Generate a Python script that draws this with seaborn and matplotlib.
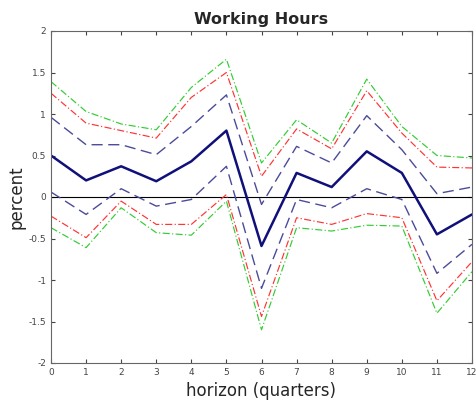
import numpy as np
import pandas as pd
import matplotlib
matplotlib.use("Agg")
import matplotlib.pyplot as plt
import seaborn as sns

horizon = list(range(13))
median = [0.50, 0.20, 0.37, 0.19, 0.43, 0.80, -0.59, 0.29, 0.12, 0.55, 0.29, -0.45, -0.21]
upper68 = [0.96, 0.63, 0.63, 0.51, 0.85, 1.23, -0.09, 0.61, 0.41, 0.98, 0.57, 0.04, 0.12]
lower68 = [0.06, -0.21, 0.10, -0.11, -0.03, 0.37, -1.10, -0.03, -0.13, 0.10, -0.03, -0.92, -0.57]
upper90 = [1.25, 0.89, 0.80, 0.71, 1.20, 1.50, 0.25, 0.82, 0.58, 1.28, 0.77, 0.36, 0.35]
lower90 = [-0.23, -0.49, -0.05, -0.33, -0.33, 0.03, -1.44, -0.25, -0.33, -0.20, -0.25, -1.25, -0.78]
upper95 = [1.39, 1.03, 0.88, 0.81, 1.32, 1.66, 0.41, 0.93, 0.65, 1.42, 0.85, 0.50, 0.47]
lower95 = [-0.37, -0.61, -0.13, -0.43, -0.46, -0.05, -1.60, -0.37, -0.41, -0.34, -0.35, -1.40, -0.90]

title = "Working Hours"
xlabel = "horizon (quarters)"
ylabel = "percent"

sns.set_style("white")
plt.rcParams['font.family'] = ['DejaVu Sans']

fig = plt.figure(figsize=(4.76, 4.01), dpi=100)
ax = fig.add_axes([51/476, 1 - 363/401, (472-51)/476, (363-31)/401])

ax.axhline(0, color="black", lw=0.8, zorder=1)

styles = [
    (upper95, "#33cc33", (0, (6, 2, 1, 2)), 0.85),
    (lower95, "#33cc33", (0, (6, 2, 1, 2)), 0.85),
    (upper90, "#ff3333", (0, (6, 2, 1, 2)), 0.85),
    (lower90, "#ff3333", (0, (6, 2, 1, 2)), 0.85),
    (upper68, "#4b4b9a", (0, (8, 4)), 1.0),
    (lower68, "#4b4b9a", (0, (8, 4)), 1.0),
    (median, "#10107a", "-", 1.8),
]
for vals, col, ls, lw in styles:
    df = pd.DataFrame({"h": horizon, "v": vals})
    sns.lineplot(data=df, x="h", y="v", ax=ax, color=col, linestyle=ls, linewidth=lw)

ax.set_xlim(0, 12)
ax.set_ylim(-2, 2)
ax.set_xticks(horizon)
ax.set_yticks([-2, -1.5, -1, -0.5, 0, 0.5, 1, 1.5, 2])
ax.set_yticklabels(["-2", "-1.5", "-1", "-0.5", "0", "0.5", "1", "1.5", "2"])
ax.tick_params(direction="in", length=3, labelsize=6.5, colors="#444444",
               top=True, right=True, bottom=True, left=True,
               labeltop=False, labelright=False)
for s in ax.spines.values():
    s.set_color("#666666")
    s.set_linewidth(0.8)

ax.set_title(title, fontsize=11.5, fontweight="bold", pad=5)
ax.set_xlabel(xlabel, fontsize=12, labelpad=4)
ax.set_ylabel(ylabel, fontsize=12, labelpad=2)

fig.savefig("out.png", dpi=100)
